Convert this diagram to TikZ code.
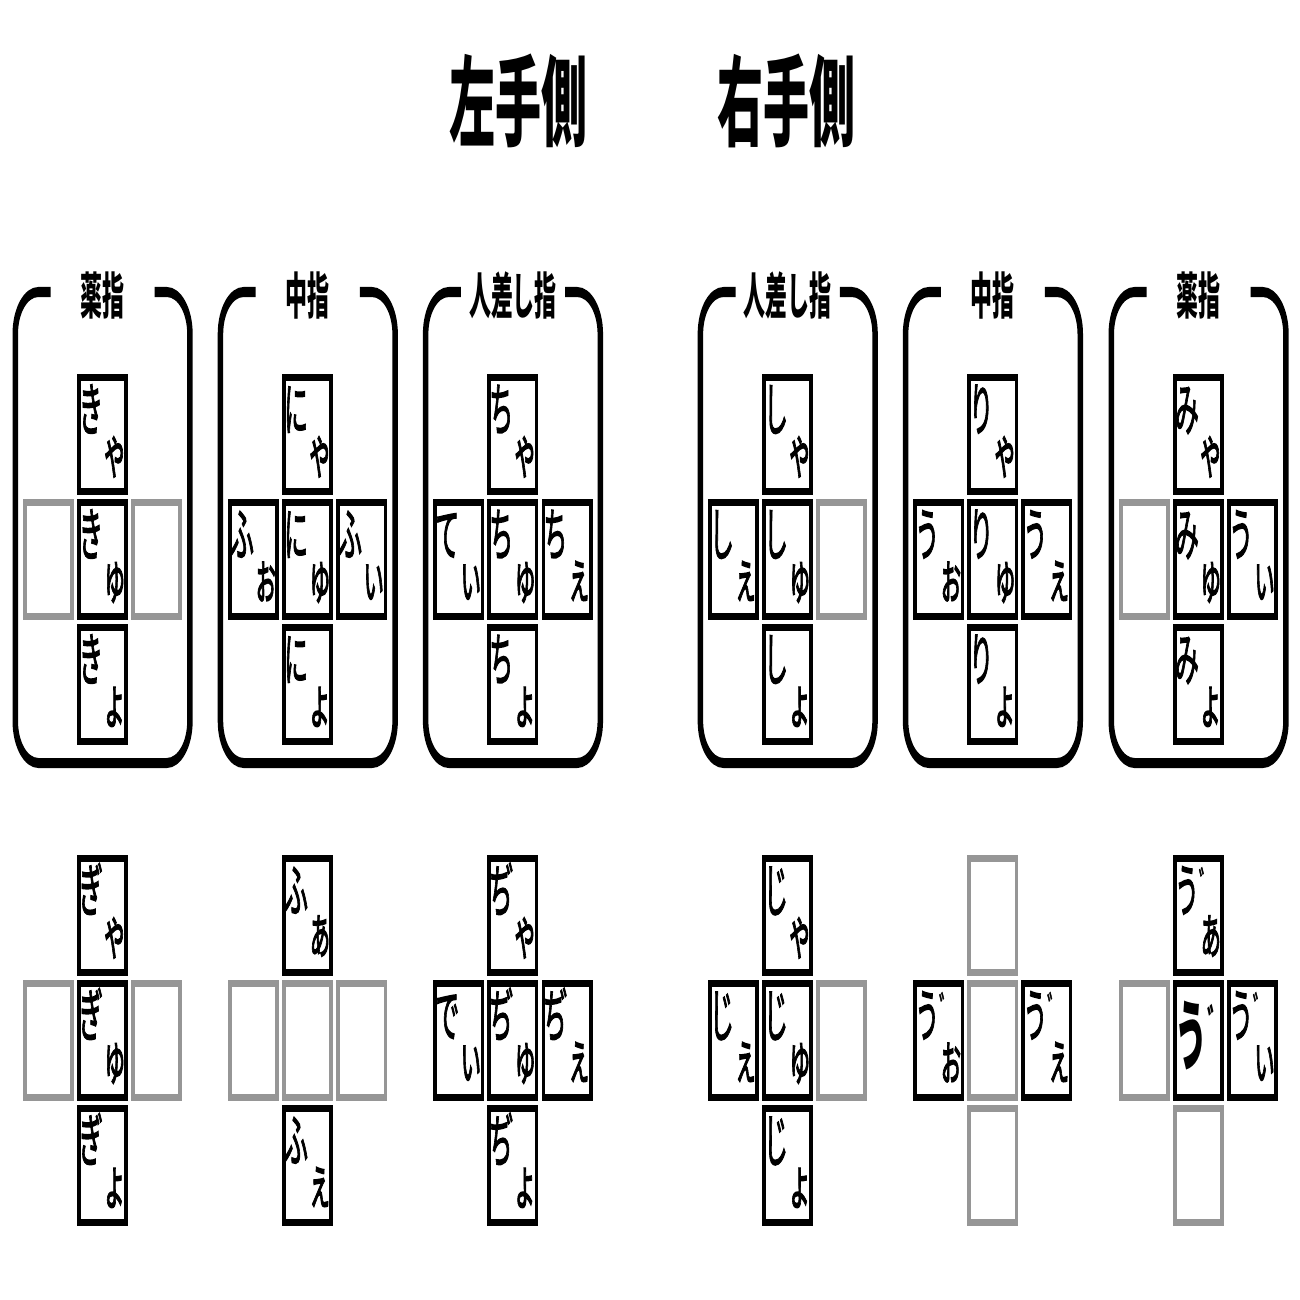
\documentclass[tikz,border=0pt]{standalone}
\usepackage{fontspec}
\newfontfamily\jp{Noto Sans CJK JP}
\newfontfamily\jpk{Noto Sans CJK JP}[FakeBold=2.5]
\usetikzlibrary{calc}
\definecolor{keygray}{RGB}{150,150,150}
\tikzset{
  keybox/.style={draw=black, fill=white, line width=0.07cm, minimum width=0.8573cm, minimum height=1.14cm, inner sep=0pt, outer sep=0pt},
  graykey/.style={keybox, draw=keygray},
  kanamain/.style={inner sep=0pt, anchor=west, text height=14pt, text depth=0.8pt, font=\jpk\fontsize{16.5pt}{16.5pt}\selectfont},
  kanasmall/.style={inner sep=0pt, text height=9.9pt, text depth=1.65pt, font=\jpk\fontsize{16.5pt}{16.5pt}\selectfont},
  kanabig/.style={inner sep=0pt, anchor=west, font=\jp\bfseries\fontsize{22pt}{22pt}\selectfont},
  framepath/.style={draw=black, line width=0.1cm, rounded corners=0.42cm},
  fingerlabel/.style={inner sep=0pt, font=\jp\bfseries\fontsize{14.2pt}{14.2pt}\selectfont},
  handlabel/.style={inner sep=0pt, font=\jp\bfseries\fontsize{28pt}{28pt}\selectfont}
}
\newcommand\dak[2]{\rlap{\raisebox{#2}{\fontsize{#1}{#1}\selectfont ゛}}}
\newcommand\vu{う\dak{11pt}{3.4pt}}
\newcommand\vubig{う\dak{13pt}{6pt}}
% key: name, cx, col, ytop, main, small
\newcommand\kkey[6]{%
  \node[keybox] (#1) at ({#2+(#3)*54},{#4+60.5}) {};
  \node[kanamain] (#1m) at ($(#1)+(-24,-27)$) {\scalebox{0.75}[1]{#5}};
  \node[kanasmall] (#1s) at ($(#1)+(12,24)$) {\scalebox{0.75}[1]{#6}};
}
\newcommand\gkey[4]{%
  \node[graykey] (#1) at ({#2+(#3)*54},{#4+60.5}) {};
}
\newcommand\fingerframe[3]{%
  \draw[framepath] ({#1-52},292) -- ({#1-87.25},292) -- ({#1-87.25},763) -- ({#1+87.25},763) -- ({#1+87.25},292) -- ({#1+52},292);
  \node[fingerlabel] (#3) at (#1,295.5) {\scalebox{0.8}[1]{#2}};
}
\begin{document}
\begin{tikzpicture}[x=0.01cm, y=-0.01cm]
\useasboundingbox[fill=white] (0,0) rectangle (1300,1300);
\begin{scope}[transform canvas={xscale=0.55}, x=0.0181818cm, y=-0.01cm]
% hand labels
\node[handlabel] (hl) at (518,101) {\scalebox{0.85}[1]{左手側}};
\node[handlabel] (hr) at (786,101) {\scalebox{0.85}[1]{右手側}};
% frames
\fingerframe{102.5}{薬指}{f1}
\fingerframe{307.5}{中指}{f2}
\fingerframe{512.5}{人差し指}{f3}
\fingerframe{787}{人差し指}{f4}
\fingerframe{992}{中指}{f5}
\fingerframe{1197.5}{薬指}{f6}
% group 1 top
\kkey{a1}{102.5}{0}{374}{き}{ゃ}
\gkey{a2}{102.5}{-1}{499}
\kkey{a3}{102.5}{0}{499}{き}{ゅ}
\gkey{a4}{102.5}{1}{499}
\kkey{a5}{102.5}{0}{624}{き}{ょ}
% group 1 bottom
\kkey{b1}{102.5}{0}{855}{ぎ}{ゃ}
\gkey{b2}{102.5}{-1}{980}
\kkey{b3}{102.5}{0}{980}{ぎ}{ゅ}
\gkey{b4}{102.5}{1}{980}
\kkey{b5}{102.5}{0}{1105}{ぎ}{ょ}
% group 2 top
\kkey{c1}{307.5}{0}{374}{に}{ゃ}
\kkey{c2}{307.5}{-1}{499}{ふ}{ぉ}
\kkey{c3}{307.5}{0}{499}{に}{ゅ}
\kkey{c4}{307.5}{1}{499}{ふ}{ぃ}
\kkey{c5}{307.5}{0}{624}{に}{ょ}
% group 2 bottom
\kkey{d1}{307.5}{0}{855}{ふ}{ぁ}
\gkey{d2}{307.5}{-1}{980}
\gkey{d3}{307.5}{0}{980}
\gkey{d4}{307.5}{1}{980}
\kkey{d5}{307.5}{0}{1105}{ふ}{ぇ}
% group 3 top
\kkey{e1}{512.5}{0}{374}{ち}{ゃ}
\kkey{e2}{512.5}{-1}{499}{て}{ぃ}
\kkey{e3}{512.5}{0}{499}{ち}{ゅ}
\kkey{e4}{512.5}{1}{499}{ち}{ぇ}
\kkey{e5}{512.5}{0}{624}{ち}{ょ}
% group 3 bottom
\kkey{g1}{512.5}{0}{855}{ぢ}{ゃ}
\kkey{g2}{512.5}{-1}{980}{で}{ぃ}
\kkey{g3}{512.5}{0}{980}{ぢ}{ゅ}
\kkey{g4}{512.5}{1}{980}{ぢ}{ぇ}
\kkey{g5}{512.5}{0}{1105}{ぢ}{ょ}
% group 4 top
\kkey{h1}{787}{0}{374}{し}{ゃ}
\kkey{h2}{787}{-1}{499}{し}{ぇ}
\kkey{h3}{787}{0}{499}{し}{ゅ}
\gkey{h4}{787}{1}{499}
\kkey{h5}{787}{0}{624}{し}{ょ}
% group 4 bottom
\kkey{i1}{787}{0}{855}{じ}{ゃ}
\kkey{i2}{787}{-1}{980}{じ}{ぇ}
\kkey{i3}{787}{0}{980}{じ}{ゅ}
\gkey{i4}{787}{1}{980}
\kkey{i5}{787}{0}{1105}{じ}{ょ}
% group 5 top
\kkey{j1}{992}{0}{374}{り}{ゃ}
\kkey{j2}{992}{-1}{499}{う}{ぉ}
\kkey{j3}{992}{0}{499}{り}{ゅ}
\kkey{j4}{992}{1}{499}{う}{ぇ}
\kkey{j5}{992}{0}{624}{り}{ょ}
% group 5 bottom
\gkey{k1}{992}{0}{855}
\kkey{k2}{992}{-1}{980}{\vu}{ぉ}
\gkey{k3}{992}{0}{980}
\kkey{k4}{992}{1}{980}{\vu}{ぇ}
\gkey{k5}{992}{0}{1105}
% group 6 top
\kkey{l1}{1197.5}{0}{374}{み}{ゃ}
\gkey{l2}{1197.5}{-1}{499}
\kkey{l3}{1197.5}{0}{499}{み}{ゅ}
\kkey{l4}{1197.5}{1}{499}{う}{ぃ}
\kkey{l5}{1197.5}{0}{624}{み}{ょ}
% group 6 bottom
\kkey{m1}{1197.5}{0}{855}{\vu}{ぁ}
\gkey{m2}{1197.5}{-1}{980}
\node[keybox] (m3) at (1197.5,1040.5) {};
\node[kanabig] (m3t) at ($(m3)+(-23,-5)$) {\scalebox{0.75}[1]{\vubig}};
\kkey{m4}{1197.5}{1}{980}{\vu}{ぃ}
\gkey{m5}{1197.5}{0}{1105}
\end{scope}
\end{tikzpicture}
\end{document}
